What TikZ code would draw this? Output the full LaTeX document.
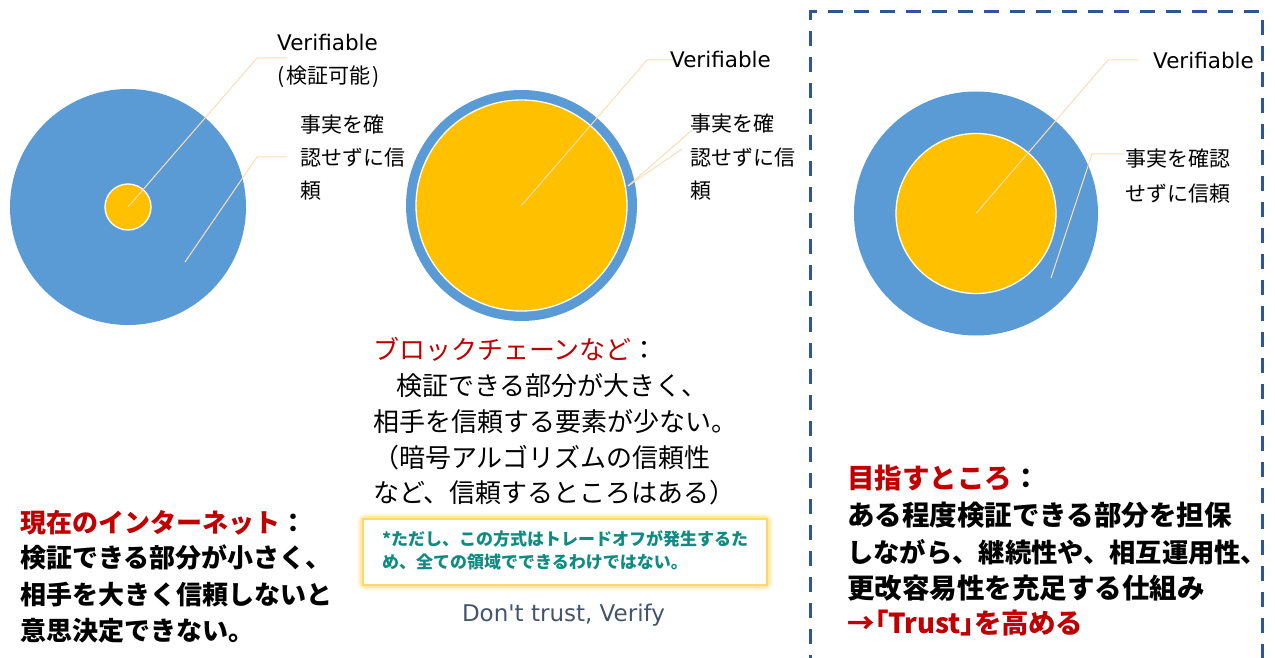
\documentclass[tikz,border=0pt]{standalone}
\usepackage{fontspec}
\setmainfont{DejaVu Sans}
\newfontfamily\jp{Noto Sans CJK JP}
\newfontfamily\jpp{Noto Sans CJK JP}[RawFeature=+palt]
\newfontfamily\lat{DejaVu Sans}
\definecolor{blueC}{HTML}{5B9BD5}
\definecolor{yellowC}{HTML}{FFC000}
\definecolor{leaderC}{HTML}{FCDDB4}
\definecolor{redC}{HTML}{C00000}
\definecolor{tealC}{HTML}{0E8C82}
\definecolor{grayC}{HTML}{44546A}
\definecolor{dashC}{HTML}{2F5597}
\definecolor{glowC}{HTML}{FFD966}
\tikzset{
  outer/.style={circle,fill=blueC,draw=none,inner sep=0pt},
  inner/.style={circle,fill=yellowC,draw=white,line width=1.3pt,inner sep=0pt},
  leader/.style={draw=leaderC,line width=1pt},
  lbl/.style={anchor=base west,inner sep=0pt,font=\jp\fontsize{21}{25}\selectfont},
  vlbl/.style={anchor=base west,inner sep=0pt,font=\lat\fontsize{21.5}{25}\selectfont},
  midtxt/.style={anchor=base west,inner sep=0pt,font=\jp\fontsize{26}{30}\selectfont},
  lefttxt/.style={anchor=base west,inner sep=0pt,font=\jp\bfseries\fontsize{26}{30}\selectfont},
  righttxt/.style={anchor=base west,inner sep=0pt,font=\jp\bfseries\fontsize{27.5}{31}\selectfont},
  notetxt/.style={anchor=base west,inner sep=0pt,text=tealC,font=\jp\bfseries\fontsize{17}{20}\selectfont},
}
\begin{document}
\begin{tikzpicture}[x=1pt,y=-1pt]
\useasboundingbox (0,0) rectangle (1275,658);
% dashed frame
\draw[dashC,line width=3pt,dash pattern=on 15pt off 11pt] (810,670) -- (810,12) -- (1262,12) -- (1262,670);

% circle 1
\node[outer,minimum size=236pt] (c1) at (128,207) {};
\node[inner,minimum size=46pt] (c1in) at (128,207) {};
\coordinate (e1a) at (257,58); \coordinate (t1a) at (287,58);
\coordinate (s1b) at (185,262); \coordinate (e1b) at (257,157); \coordinate (t1b) at (287,157);
\draw[leader] (c1in.center) -- (e1a) -- (t1a);
\draw[leader] (s1b) -- (e1b) -- (t1b);
\node[vlbl] (v1) at (277,51) {Verifiable};
\node[lbl] (v1b) at (277,84) {(\hspace{2pt}検証可能\hspace{2pt})};
\node[lbl] (f1a) at (300,133) {事実を確};
\node[lbl] (f1b) at (300,166) {認せずに信};
\node[lbl] (f1c) at (300,199) {頼};

% circle 2
\node[outer,minimum size=231pt] (c2) at (521.5,205.5) {};
\node[inner,minimum size=211pt] (c2in) at (521.5,205.5) {};
\coordinate (e2a) at (647,60); \coordinate (t2a) at (675,60);
\coordinate (s2b) at (628,186); \coordinate (t2b) at (692,130); \coordinate (t2c) at (682,149);
\draw[leader] (c2in.center) -- (e2a) -- (t2a);
\draw[leader] (s2b) -- (t2b);
\draw[leader] (s2b) -- (t2c);
\node[vlbl] (v2) at (670,68) {Verifiable};
\node[lbl] (f2a) at (690,132) {事実を確};
\node[lbl] (f2b) at (690,165) {認せずに信};
\node[lbl] (f2c) at (690,198) {頼};

% circle 3
\node[outer,minimum size=244pt] (c3) at (976,213.5) {};
\node[inner,minimum size=160pt] (c3in) at (976,213.5) {};
\coordinate (e3a) at (1108,60); \coordinate (t3a) at (1138,60);
\coordinate (s3b) at (1051,278); \coordinate (e3b) at (1092,154); \coordinate (t3b) at (1125,154);
\draw[leader] (c3in.center) -- (e3a) -- (t3a);
\draw[leader] (s3b) -- (e3b) -- (t3b);
\node[vlbl] (v3) at (1153,69) {Verifiable};
\node[lbl] (f3a) at (1125,167) {事実を確認};
\node[lbl] (f3b) at (1125,201) {せずに信頼};

% middle text
\node[midtxt] (m1) at (373,359) {{\color{redC}ブロックチェーンなど}：};
\node[midtxt] (m2) at (370,395) {　検証できる部分が大きく、};
\node[midtxt] (m3) at (373,431) {相手を信頼する要素が少ない。};
\node[midtxt] (m4) at (373,467) {（暗号アルゴリズムの信頼性};
\node[midtxt] (m5) at (373,502) {など、信頼するところはある）};

% note box with glow
\foreach \w/\o in {12/0.12,9/0.2,6/0.35}{
  \draw[glowC,line width=\w pt,opacity=\o,rounded corners=3pt] (363,519) rectangle (767,585);
}
\node[draw=glowC,line width=2.5pt,fill=white,minimum width=404pt,minimum height=66pt,inner sep=0pt] (note) at (565,552) {};
\node[notetxt] (n1) at (382,545) {*ただし、この方式はトレードオフが発生するた};
\node[notetxt] (n2) at (382,568) {め、全ての領域でできるわけではない。};

\node[anchor=base,inner sep=0pt,text=grayC,font=\lat\fontsize{23}{27}\selectfont] (dtv) at (563.5,621) {Don't trust, Verify};

% left text
\node[lefttxt] (l1) at (20,532) {{\color{redC}現在のインターネット}：};
\node[lefttxt] (l2) at (20,567) {検証できる部分が小さく、};
\node[lefttxt] (l3) at (20,604) {相手を大きく信頼しないと};
\node[lefttxt] (l4) at (20,640) {意思決定できない。};

% right text
\node[righttxt] (r1) at (847,488) {{\color{redC}目指すところ}：};
\node[righttxt] (r2) at (847,525) {ある程度検証できる部分を担保};
\node[righttxt,font=\jp\bfseries\fontsize{26.3}{31}\selectfont] (r3) at (847,562) {しながら、継続性や、相互運用性、};
\node[righttxt] (r4) at (847,598) {更改容易性を充足する仕組み};
\node[righttxt,text=redC,font=\jpp\bfseries\fontsize{27.5}{31}\selectfont] (r5) at (847,633) {→「Trust」を高める};
\end{tikzpicture}
\end{document}
